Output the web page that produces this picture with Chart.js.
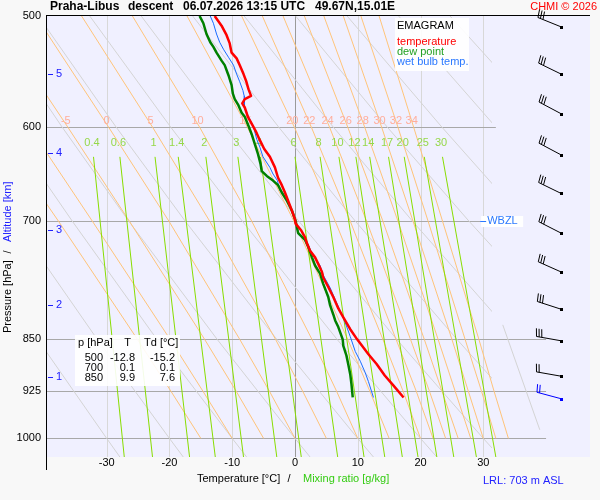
<!DOCTYPE html>
<html lang="cs">
<head>
  <meta charset="UTF-8">
  <title>Praha-Libus emagram</title>
  <style>
    html, body { margin: 0; padding: 0; background: #f8f8f8; }
    canvas { display: block; }
  </style>
</head>
<body>
  <canvas id="emagram" width="600" height="500" style="width:600px;height:500px"></canvas>

  <script src="https://cdn.jsdelivr.net/npm/chart.js"></script>
  <script>
    // ---- sounding (descent profile) ----
    const tempP = [500, 508, 516, 523, 531, 536, 542, 550, 556, 564, 570, 573, 577, 581, 590, 600, 606, 613, 622, 630,
                   641, 652, 660, 668, 677, 688, 698, 703, 711, 719, 726, 735, 743, 751, 761, 768, 780, 793, 808, 820,
                   836, 850, 871, 885, 902, 917, 935];
    const tempT = [-12.8, -11.7, -10.9, -10.4, -10.1, -9.3, -8.8, -8.2, -7.8, -7.4, -7.0, -8.0, -8.4, -8.0, -7.5, -6.6, -6.1, -5.6, -4.9, -4.0,
                   -3.2, -2.7, -2.1, -1.6, -1.1, -0.5, 0.0, 0.1, 1.0, 1.6, 1.9, 2.4, 3.2, 3.7, 4.3, 4.5, 5.3, 6.1, 6.9, 7.7,
                   8.8, 9.9, 11.7, 13.0, 14.3, 15.7, 17.3];

    const dewP = [500, 506, 515, 522, 526, 531, 538, 542, 551, 560, 568, 573, 579, 586, 590, 599, 607, 617, 627, 637,
                  645, 650, 655, 660, 668, 677, 688, 700, 714, 722, 730, 743, 753, 763, 776, 793, 804, 816, 824, 833,
                  850, 859, 873, 886, 900, 915, 935];
    const dewT = [-15.2, -14.6, -14.1, -13.5, -13.0, -12.5, -11.7, -11.2, -10.6, -10.1, -9.9, -9.6, -9.0, -8.5, -8.0, -7.4, -6.9, -6.4, -5.9, -5.5,
                  -5.3, -4.5, -3.5, -2.7, -2.1, -1.3, -0.5, 0.1, 0.5, 1.6, 2.1, 2.7, 3.2, 4.0, 4.5, 5.3, 5.6, 6.1, 6.4, 6.9,
                  7.6, 7.7, 8.2, 8.5, 8.8, 9.0, 9.2];

    const wetP = [500, 506, 515, 522, 528, 535, 542, 550, 557, 565, 570, 575, 581, 590, 600, 612, 620, 630, 641, 648,
                  655, 666, 673, 684, 698, 714, 725, 741, 753, 765, 781, 796, 811, 827, 846, 867, 881, 898, 911, 935];
    const wetT = [-13.5, -13.0, -12.5, -12.0, -11.4, -10.6, -9.8, -9.3, -8.8, -8.3, -8.1, -8.1, -8.0, -7.4, -6.6, -6.1, -5.6, -5.1, -4.0, -3.5,
                  -2.8, -2.4, -1.6, -0.8, 0.0, 0.5, 1.9, 2.9, 4.0, 4.5, 5.6, 6.4, 7.2, 8.0, 8.8, 9.6, 10.4, 11.2, 11.7, 12.5];

    // ---- background lines of the diagram ----
    // dry adiabats, T [°C] at dryP levels
    const dryP = [500, 600, 700, 850, 1000, 1031];
    const dryT = [
      [-73.7, -63.1, -53.6, -41.0, -30, -27.9],
      [-65.5, -54.4, -44.6, -31.5, -20, -17.8],
      [-57.3, -45.8, -35.5, -22.0, -10, -7.7],
      [-49.1, -37.1, -26.5, -12.4, 0, 2.4],
      [-40.9, -28.5, -17.5, -2.9, 10, 12.5],
      [-32.7, -19.8, -8.4, 6.7, 20, 22.6],
      [-24.5, -11.2, 0.6, 16.2, 30, 32.7],
      [-16.3, -2.6, 9.6, 25.8, 40, 42.8],
      [-8.1, 6.1, 18.7, 35.3, 50, 52.9],
      [0.1, 14.7, 27.7, 44.9, 60, 63.0],
      [8.3, 23.4, 36.7, 54.4, 70, 73.2],
      [16.5, 32.0, 45.8, 64.0, 80, 83.3],
      [24.7, 40.7, 54.8, 73.5, 90, 93.4]
    ];
    const extraGrayP = [830, 986];
    const extraGrayT = [33.1, 39.0];

    // saturated adiabats, labelled by wet-bulb potential temperature (first two run off the left edge unlabelled)
    const moistLabels = [-15, -10, -5, 0, 5, 10, 15, 20, 22, 24, 26, 28, 30, 32, 34];
    const moistP = [500, 600, 700, 850, 925, 1000];
    const moistT = [
      [-60.0, -48.0, -37.7, -25.1, -19.8, -15],
      [-54.2, -42.3, -32.3, -19.9, -14.7, -10],
      [-48.0, -36.2, -26.4, -14.4, -9.4, -5],
      [-41.3, -29.7, -20.1, -8.8, -4.1, 0],
      [-34.0, -22.7, -13.6, -3.1, 1.2, 5],
      [-25.9, -15.2, -6.9, 2.7, 6.6, 10],
      [-17.2, -7.6, -0.2, 8.4, 11.9, 15],
      [-8.5, -0.1, 6.4, 14.0, 17.2, 20],
      [-5.2, 2.6, 8.8, 16.1, 19.3, 22],
      [-1.9, 5.5, 11.4, 18.4, 21.4, 24],
      [1.5, 8.4, 14.0, 20.6, 23.4, 26],
      [4.6, 11.1, 16.4, 22.8, 25.5, 28],
      [7.7, 13.8, 18.8, 25.0, 27.6, 30],
      [10.5, 16.4, 21.2, 27.1, 29.7, 32],
      [13.4, 18.9, 23.5, 29.3, 31.7, 34]
    ];

    // mixing ratio lines [g/kg]: T at top (630 hPa) and bottom (1031 hPa)
    const mixRatio = ['0.4', '0.6', '1', '1.4', '2', '3', '4', '6', '8', '10', '12', '14', '17', '20', '25', '30'];
    const mixTopT = [-32.1, -27.9, -22.3, -18.6, -14.2, -9.1, -5.5, 0.0, 4.0, 7.0, 9.7, 11.9, 14.9, 17.4, 20.6, 23.5];
    const mixBottomT = [-27.2, -22.7, -16.8, -12.7, -8.2, -2.9, 1.0, 6.8, 11.0, 14.3, 17.1, 19.6, 22.6, 25.3, 28.9, 32.0];
    const mixTopP = 630, mixBottomP = 1031;

    // ---- axes ----
    const pressureTicks = [500, 600, 700, 850, 925, 1000];
    const tempTicks = [-30, -20, -10, 0, 10, 20, 30];
    const isobarP = [600, 700, 850, 925, 1000];
    const altKm = [1, 2, 3, 4, 5];
    const altP = [904, 804, 710, 626, 550];

    // ---- wind ----
    const windP = [509, 550, 587, 628, 669, 714, 761, 809, 852, 903, 937];
    const windDir = [292, 296, 298, 298, 296, 297, 294, 288, 280, 280, 285];
    const windSpd = [30, 30, 30, 30, 30, 30, 30, 30, 30, 20, 20];
    const windColumnT = 42.4;

    // ---- small table ----
    const tableP = ['500', '700', '850'];
    const tableT = ['-12.8', '0.1', '9.9'];
    const tableTd = ['-15.2', '0.1', '7.6'];

    const wbzlP = 700;

    const FONT = "Arial, 'Liberation Sans', sans-serif";

    function pts(ps, ts) {
      return ts.map((t, i) => ({ x: t, y: ps[i] }));
    }

    // build datasets (lower `order` is drawn on top)
    const datasets = [
      { label: 'temperature', data: pts(tempP, tempT), borderColor: '#ff0000', borderWidth: 2.5, order: 0 },
      { label: 'dew point', data: pts(dewP, dewT), borderColor: '#008000', borderWidth: 2.5, order: 1 },
      { label: 'wet bulb temp.', data: pts(wetP, wetT), borderColor: '#1a6cff', borderWidth: 1, order: 2, drawLabels: true }
    ];
    mixTopT.forEach((t, i) => {
      datasets.push({ data: [{ x: t, y: mixTopP }, { x: mixBottomT[i], y: mixBottomP }],
        borderColor: '#88dd00', borderWidth: 1, order: 3, clip: 0 });
    });
    moistT.forEach(row => {
      datasets.push({ data: pts(moistP, row), borderColor: '#ffc47a', borderWidth: 1, order: 4, clip: 0 });
    });
    dryT.forEach(row => {
      datasets.push({ data: pts(dryP, row), borderColor: '#d4d4d4', borderWidth: 1, order: 5, clip: 0, clipT: 31.4 });
    });
    datasets.push({ data: pts(extraGrayP, extraGrayT), borderColor: '#d4d4d4', borderWidth: 1, order: 5, clip: 0 });

    function text(ctx, s, x, y, color, font, align) {
      ctx.fillStyle = color;
      ctx.font = font;
      ctx.textAlign = align || 'left';
      ctx.textBaseline = 'middle';
      ctx.fillText(s, x, y);
    }

    function hline(ctx, x1, x2, y, color) {
      const yy = Math.round(y) + 0.5;
      ctx.strokeStyle = color;
      ctx.beginPath(); ctx.moveTo(x1, yy); ctx.lineTo(x2, yy); ctx.stroke();
    }

    function vline(ctx, x, y1, y2, color) {
      const xx = Math.round(x) + 0.5;
      ctx.strokeStyle = color;
      ctx.beginPath(); ctx.moveTo(xx, y1); ctx.lineTo(xx, y2); ctx.stroke();
    }

    function drawBarb(ctx, x0, y0, dir, spd, color) {
      const r = dir * Math.PI / 180;
      const ux = Math.sin(r), uy = -Math.cos(r);   // towards where the wind comes from
      const px = -uy, py = ux;                      // side of the feathers
      const staff = 25, feather = 8, step = 2.7;
      ctx.strokeStyle = color;
      ctx.fillStyle = color;
      ctx.lineWidth = 1;
      ctx.fillRect(Math.round(x0) - 1, Math.round(y0) - 1, 3, 3);
      ctx.beginPath();
      ctx.moveTo(x0, y0);
      ctx.lineTo(x0 + ux * staff, y0 + uy * staff);
      let left = spd, k = 0;
      while (left >= 5) {
        const len = left >= 10 ? feather : feather / 2;
        const bx = x0 + ux * (staff - k * step), by = y0 + uy * (staff - k * step);
        ctx.moveTo(bx, by);
        ctx.lineTo(bx + px * len + ux * 1.5, by + py * len + uy * 1.5);
        left -= left >= 10 ? 10 : 5;
        k++;
      }
      ctx.stroke();
    }

    const emagramDecor = {
      id: 'emagramDecor',
      beforeDraw(chart) {
        const { ctx, chartArea: a, scales: { x, y } } = chart;
        ctx.save();
        ctx.fillStyle = '#f8f8f8';
        ctx.fillRect(0, 0, chart.width, chart.height);
        ctx.fillStyle = '#f0f0ff';
        ctx.fillRect(a.left, a.top, a.right - a.left, a.bottom - a.top);
        ctx.lineWidth = 1;

        // isotherms
        tempTicks.forEach(t => {
          vline(ctx, x.getPixelForValue(t), a.top, a.bottom, t === 0 ? '#9a9a9a' : '#d8d8d8');
        });

        // isobars (each one ends at a different place)
        isobarP.forEach(p => {
          let end = x.getPixelForValue(40);
          if (p === 600) end = x.getPixelForValue(32);
          if (p === 700) end = x.getPixelForValue(29.5);
          hline(ctx, a.left, end, y.getPixelForValue(p), '#a8a8a8');
        });
        ctx.restore();
      },

      beforeDatasetDraw(chart, args) {
        const { ctx, chartArea: a, scales: { x, y } } = chart;
        const ds = chart.data.datasets[args.index];
        if (ds.clipT !== undefined) {
          ctx.save();
          ctx.beginPath();
          ctx.rect(a.left, a.top, x.getPixelForValue(ds.clipT) - a.left, a.bottom - a.top);
          ctx.clip();
        }
        if (ds.drawLabels) {
          // labels of the saturated adiabats and the mixing ratio lines
          ctx.save();
          const y600 = y.getPixelForValue(600);
          moistLabels.forEach((lab, i) => {
            const xl = x.getPixelForValue(moistT[i][1]) - 2;
            if (xl < a.left + 8) return;
            text(ctx, String(lab), xl, y600 - 6.5, '#ffae9c', '11px ' + FONT, 'center');
          });
          const yMix = y.getPixelForValue(mixTopP) - 14;
          mixRatio.forEach((lab, i) => {
            text(ctx, lab, x.getPixelForValue(mixTopT[i]) - 1.5, yMix, '#96d84a', '11px ' + FONT, 'center');
          });
          ctx.restore();
        }
      },

      afterDatasetDraw(chart, args) {
        const ds = chart.data.datasets[args.index];
        if (ds.clipT !== undefined) chart.ctx.restore();
      },

      afterDatasetsDraw(chart) {
        const { ctx, chartArea: a, scales: { x, y } } = chart;
        ctx.save();
        ctx.lineWidth = 1;

        // frame: left axis and top border
        vline(ctx, a.left, a.top, a.bottom + 13, '#000');
        hline(ctx, a.left, a.right, a.top - 1, '#000');

        // pressure and temperature tick labels
        pressureTicks.forEach(p => {
          text(ctx, String(p), a.left - 5, y.getPixelForValue(p), '#000', '11px ' + FONT, 'right');
        });
        tempTicks.forEach(t => {
          text(ctx, String(t), x.getPixelForValue(t), a.bottom + 6, '#000', '11px ' + FONT, 'center');
        });

        // altitude marks
        altKm.forEach((km, i) => {
          const yy = y.getPixelForValue(altP[i]);
          hline(ctx, a.left + 2, a.left + 7, yy, '#2020ff');
          text(ctx, String(km), a.left + 13, yy, '#2020ff', '11px ' + FONT, 'center');
        });

        // axis titles
        text(ctx, 'Temperature [°C]', 197, 479, '#000', '11px ' + FONT);
        text(ctx, '/', 289, 479, '#000', '11px ' + FONT, 'center');
        text(ctx, 'Mixing ratio [g/kg]', 303, 479, '#33cc11', '11px ' + FONT);
        text(ctx, 'LRL: 703 m ASL', 483, 481, '#2222ff', '11px ' + FONT);

        ctx.save();
        ctx.translate(8, 333);
        ctx.rotate(-Math.PI / 2);
        text(ctx, 'Pressure [hPa]', 0, 0, '#000', '11px ' + FONT);
        text(ctx, '/', 81, 0, '#000', '11px ' + FONT, 'center');
        text(ctx, 'Altitude [km]', 91, 0, '#2020ff', '11px ' + FONT);
        ctx.restore();

        // title line
        const bold = 'bold 12px ' + FONT;
        text(ctx, 'Praha-Libus', 50, 7, '#000', bold);
        text(ctx, 'descent', 128, 7, '#000', bold);
        text(ctx, '06.07.2026 13:15 UTC', 183, 7, '#000', bold);
        text(ctx, '49.67N,15.01E', 315, 7, '#000', bold);
        text(ctx, 'CHMI © 2026', 597, 7, '#ff0000', '11px ' + FONT, 'right');

        // legend box
        ctx.fillStyle = 'rgba(255,255,255,0.9)';
        ctx.fillRect(395, 18, 74, 53);
        text(ctx, 'EMAGRAM', 397, 26, '#000', '11px ' + FONT);
        text(ctx, 'temperature', 397, 42, '#ff0000', '11px ' + FONT);
        text(ctx, 'dew point', 397, 52, '#22a022', '11px ' + FONT);
        text(ctx, 'wet bulb temp.', 397, 62, '#2a78ff', '11px ' + FONT);

        // table of standard levels
        ctx.fillStyle = 'rgba(255,255,255,0.9)';
        ctx.fillRect(75, 335, 105, 51);
        text(ctx, 'p [hPa]', 78, 343, '#000', '11px ' + FONT);
        text(ctx, 'T', 127.5, 343, '#000', '11px ' + FONT, 'center');
        text(ctx, 'Td [°C]', 144, 343, '#000', '11px ' + FONT);
        tableP.forEach((p, i) => {
          const yy = 358 + i * 10;
          text(ctx, p, 103, yy, '#000', '11px ' + FONT, 'right');
          text(ctx, tableT[i], 135, yy, '#000', '11px ' + FONT, 'right');
          text(ctx, tableTd[i], 175, yy, '#000', '11px ' + FONT, 'right');
        });

        // wet bulb zero level
        const yW = y.getPixelForValue(wbzlP);
        const xW = x.getPixelForValue(29.5);
        ctx.fillStyle = '#ffffff';
        ctx.fillRect(xW + 1, yW - 5, 42, 11);
        hline(ctx, xW, xW + 6, yW, '#2a78ff');
        text(ctx, 'WBZL', xW + 7, yW, '#2a78ff', '11px ' + FONT);

        // wind barbs
        const xb = x.getPixelForValue(windColumnT);
        windP.forEach((p, i) => {
          const color = i === windP.length - 1 ? '#0000ff' : '#000000';
          drawBarb(ctx, xb, y.getPixelForValue(p), windDir[i], windSpd[i], color);
        });
        ctx.restore();
      }
    };

    const ctx = document.getElementById('emagram').getContext('2d');
    new Chart(ctx, {
      type: 'scatter',
      data: { datasets: datasets },
      options: {
        responsive: false,
        animation: false,
        events: [],
        layout: { padding: { left: 46, top: 16, right: 10, bottom: 43 } },
        elements: {
          point: { radius: 0 },
          line: { tension: 0, fill: false, borderJoinStyle: 'round' }
        },
        datasets: { scatter: { showLine: true } },
        scales: {
          x: { type: 'linear', min: -39.67, max: 47.0, display: false },
          y: { type: 'logarithmic', min: 500, max: 1031, reverse: true, display: false }
        },
        plugins: {
          legend: { display: false },
          tooltip: { enabled: false }
        }
      },
      plugins: [emagramDecor]
    });
  </script>
</body>
</html>
